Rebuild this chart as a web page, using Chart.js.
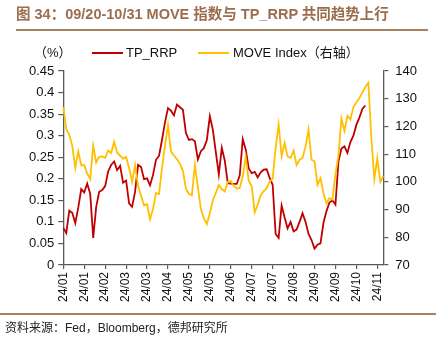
<!DOCTYPE html>
<html>
<head>
<meta charset="utf-8">
<script src="https://cdn.jsdelivr.net/npm/chart.js@4.4.0/dist/chart.umd.min.js"></script>
<style>
  body { margin: 0; background: #fff; }
  #wrap { position: relative; width: 436px; height: 340px; overflow: hidden; font-family: "Liberation Sans", "Noto Sans CJK SC", sans-serif; }
  #myChart { position: absolute; left: 0; top: 0; }
  .title { position: absolute; left: 16px; top: 6px; font-size: 14.5px; line-height: 17px; font-weight: bold; color: #9b6d4c; white-space: nowrap; }
  .rule { position: absolute; height: 0; border-top: 2px solid #a98260; }
  .lgText { position: absolute; top: 45px; font-size: 13px; line-height: 16px; color: #111; white-space: nowrap; }
  .lgLine { position: absolute; top: 52px; height: 2px; width: 31px; }
  .source { position: absolute; left: 5px; top: 321px; font-size: 12px; line-height: 14px; color: #222; white-space: nowrap; }
</style>
</head>
<body>
<div id="wrap">
  <canvas id="myChart" width="436" height="340"></canvas>
  <div class="title">图 34：09/20-10/31 MOVE 指数与 TP_RRP 共同趋势上行</div>
  <div class="rule" style="left:16px; width:412px; top:29px;"></div>
  <div class="lgText" style="left:34px;">（%）</div>
  <div class="lgLine" style="left:92px; background:#c00000;"></div>
  <div class="lgText" style="left:126px;">TP_RRP</div>
  <div class="lgLine" style="left:198px; background:#ffc000;"></div>
  <div class="lgText" style="left:233px;">MOVE Index（右轴）</div>
  <div class="rule" style="left:0; width:436px; top:313px;"></div>
  <div class="source">资料来源：Fed，Bloomberg，德邦研究所</div>
</div>
<script>
// TP_RRP, left axis (%)
const tpRrp = [
  0.086, 0.074, 0.126, 0.121, 0.097, 0.133, 0.176, 0.168, 0.189, 0.165,
  0.063, 0.135, 0.17, 0.174, 0.183, 0.217, 0.232, 0.24, 0.22, 0.23,
  0.191, 0.196, 0.143, 0.135, 0.17, 0.232, 0.227, 0.199, 0.201, 0.185,
  0.209, 0.244, 0.253, 0.29, 0.331, 0.364, 0.358, 0.347, 0.372, 0.366,
  0.36, 0.306, 0.29, 0.292, 0.287, 0.245, 0.264, 0.271, 0.29, 0.345,
  0.314, 0.262, 0.21, 0.272, 0.242, 0.19, 0.189, 0.188, 0.188, 0.208,
  0.292, 0.268, 0.224, 0.213, 0.216, 0.203, 0.215, 0.221, 0.222, 0.202,
  0.186, 0.072, 0.063, 0.138, 0.11, 0.085, 0.1, 0.078, 0.082, 0.1,
  0.12, 0.1, 0.072, 0.058, 0.038, 0.047, 0.05, 0.098, 0.125, 0.145,
  0.15, 0.14, 0.24, 0.27, 0.275, 0.26, 0.285, 0.3, 0.325, 0.342,
  0.362, 0.37, null, null, null, null, null, null
];

// MOVE Index, right axis
const moveIndex = [
  127, 119, 117, 113, 105, 111, 106, 106, 103, 101,
  113, 107, 109, 109.2, 108.6, 111.3, 110.4, 114.5, 110.5, 109.5,
  108.3, 109, 105, 100, 106, 98.5, 95, 91.5, 92, 86.5,
  90.2, 96, 95.6, 105, 113, 120.5, 111, 109.5, 108.2, 106.5,
  104, 97.5, 95.6, 95.2, 106, 98, 90.2, 86.9, 84.8, 88.7,
  93.3, 96, 98.9, 97.4, 96.5, 100, 100.3, 98.5, 97.6, 97.8,
  102, 109, 100.4, 98.4, 89, 91.8, 95.2, 96.6, 97.7, 100.1,
  101.1, 112.4, 120.7, 109.2, 114, 109.2, 108.6, 111.3, 106.1, 108,
  108.6, 112.8, 118.8, 108, 107.4, 98.9, 101.3, 95.9, 92.2, 94.1,
  93.6, 102.8, 109.5, 122.8, 118.4, 123.8, 122.5, 127, 128.6, 130.2,
  132.3, 134.2, 135.8, 116, 101, 108.5, 100, 102
];

// one label every 7 points
const tickLabels = ['24/01', '24/01', '24/02', '24/03', '24/03', '24/04', '24/05', '24/05',
  '24/06', '24/07', '24/07', '24/08', '24/09', '24/09', '24/10', '24/11'];
const tickEvery = 7;

const fontFamily = '"Liberation Sans", Arial, sans-serif';
const axisColor = '#595959';

const ctx = document.getElementById('myChart');
const myChart = new Chart(ctx, {
  type: 'line',
  data: {
    labels: tpRrp.map((v, i) => i),
    datasets: [
      {
        label: 'TP_RRP',
        data: tpRrp,
        yAxisID: 'y',
        borderColor: '#c00000',
        borderWidth: 1.8,
        pointRadius: 0,
        tension: 0,
        order: 1
      },
      {
        label: 'MOVE Index（右轴）',
        data: moveIndex,
        yAxisID: 'y1',
        borderColor: '#ffc000',
        borderWidth: 1.8,
        pointRadius: 0,
        tension: 0,
        order: 0
      }
    ]
  },
  options: {
    responsive: false,
    animation: false,
    layout: { padding: { top: 71, left: 0, right: 0, bottom: 0 } },
    plugins: { legend: { display: false }, tooltip: { enabled: false } },
    scales: {
      x: {
        grid: { drawOnChartArea: false, color: axisColor, tickLength: 4, lineWidth: 1.2 },
        border: { color: axisColor, width: 1.3 },
        ticks: {
          autoSkip: false,
          minRotation: 90,
          maxRotation: 90,
          padding: 3,
          color: '#111',
          font: { family: fontFamily, size: 12 },
          callback: (val, i) => (i % tickEvery === 0 ? tickLabels[i / tickEvery] : null)
        },
        afterFit: (scale) => { scale.height = 75; }
      },
      y: {
        position: 'left',
        min: 0,
        max: 0.45,
        grid: { drawOnChartArea: false, color: axisColor, tickLength: 5, lineWidth: 1.2 },
        border: { color: axisColor, width: 1.3 },
        ticks: {
          stepSize: 0.05,
          padding: 4,
          color: '#111',
          font: { family: fontFamily, size: 13 },
          callback: (v) => String(+v.toFixed(2))
        },
        afterFit: (scale) => { scale.width = 63.3; }
      },
      y1: {
        position: 'right',
        min: 70,
        max: 140,
        grid: { drawOnChartArea: false, color: axisColor, tickLength: 5, lineWidth: 1.2 },
        border: { color: axisColor, width: 1.3 },
        ticks: {
          stepSize: 10,
          padding: 7,
          color: '#111',
          font: { family: fontFamily, size: 13 }
        },
        afterFit: (scale) => { scale.width = 52.7; }
      }
    }
  }
});
</script>
</body>
</html>
